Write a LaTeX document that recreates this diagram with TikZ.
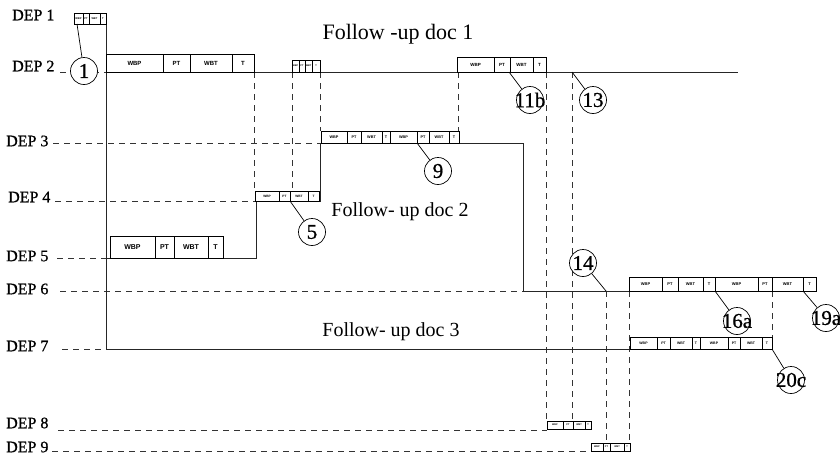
\documentclass[tikz,border=0pt]{standalone}
\usepackage{fontspec}
\setmainfont{Liberation Serif}
\newfontfamily\cellfont{Liberation Sans}
\newfontfamily\heavyserif{Liberation Serif}[FakeBold=0.8]
\newcommand\cellrow[5]{%
  \foreach \xa/\xb/\tx [count=\i] in {#5} {
    \node[cellbox, minimum width={(\xb-\xa)*1pt}, minimum height=#3pt,
          font=\cellfont\bfseries\fontsize{#4}{#4}\selectfont]
      (#1\i) at ({(\xa+\xb)/2}, {#2-#3/2}) {\tx};
  }%
}
\begin{document}
\begin{tikzpicture}[x=1pt,y=-1pt,
  solidln/.style={line width=0.8pt, black!85},
  dashln/.style={line width=0.7pt, black!80, dash pattern=on 6pt off 5pt},
  cellbox/.style={draw, line width=0.6pt, fill=white, inner sep=0pt},
  numcirc/.style={circle, draw, line width=0.7pt, fill=white, minimum size=27pt, inner sep=0pt, font=\heavyserif\fontsize{21}{21}\selectfont},
  deplab/.style={anchor=west, inner sep=0pt, font=\heavyserif\fontsize{16}{16}\selectfont},
  followlab/.style={inner sep=0pt, font=\fontsize{20}{20}\selectfont},
  leader/.style={line width=0.7pt}]

\useasboundingbox[fill=white] (0,0) rectangle (840,461);

% department labels
\node[deplab] (L1) at (12,15)  {DEP 1};
\node[deplab] (L2) at (12,66)  {DEP 2};
\node[deplab] (L3) at (6,141)  {DEP 3};
\node[deplab] (L4) at (8,197)  {DEP 4};
\node[deplab] (L5) at (6,256)  {DEP 5};
\node[deplab] (L6) at (6,289)  {DEP 6};
\node[deplab] (L7) at (6,346)  {DEP 7};
\node[deplab] (L8) at (6,423)  {DEP 8};
\node[deplab] (L9) at (6,447)  {DEP 9};

% horizontal dashed guide lines
\draw[dashln] (60,72) -- (106,72);
\draw[dashln] (53,143) -- (320,143);
\draw[dashln] (55,201) -- (255,201);
\draw[dashln] (57,258) -- (106,258);
\draw[dashln] (60,291) -- (523,291);
\draw[dashln] (62,349) -- (106,349);
\draw[dashln] (58,430) -- (547,430);
\draw[dashln] (52,451) -- (591,451);

% vertical dashed guide lines
\draw[dashln] (254,72) -- (254,191);
\draw[dashln] (292,72) -- (292,191);
\draw[dashln] (320,72) -- (320,131);
\draw[dashln] (458,72) -- (458,131);
\draw[dashln] (546,72) -- (546,421);
\draw[dashln] (572,72) -- (572,421);
\draw[dashln] (606,291) -- (606,443);
\draw[dashln] (629,291) -- (629,443);
\draw[dashln] (772,291) -- (772,337);

% solid document flows
\draw[solidln] (106,13) -- (106,349) -- (762,349);
\draw[solidln] (106,72) -- (738,72);
\draw[solidln] (106,258) -- (256,258) -- (256,201) -- (320,201) -- (320,143)
   -- (523,143) -- (523,291) -- (816,291);

% activity boxes
\cellrow{da}{24}{11}{2.6}{74/83/WBP,83/89/PT,89/100/WBT,100/106/T}
\cellrow{db}{72}{18}{6}{106/163/WBP,163/190/PT,190/232/WBT,232/254/T}
\cellrow{dc}{72}{12}{2.4}{292/299/WBP,299/305/PT,305/312/WBT,312/320/T}
\cellrow{dd}{72}{15}{4.5}{457/494/WBP,494/510/PT,510/533/WBT,533/546/T}
\cellrow{de}{143}{12}{3.8}{321/347/WBP,347/361/PT,361/382/WBT,382/390/T,390/417/WBP,417/429/PT,429/449/WBT,449/459/T}
\cellrow{df}{201}{10}{3.2}{255/279/WBP,279/290/PT,290/308/WBT,308/319/T}
\cellrow{dg}{258}{22}{7}{110/155/WBP,155/174/PT,174/208/WBT,208/223/T}
\cellrow{dh}{291}{14}{4}{629/662/WBP,662/678/PT,678/703/WBT,703/715/T,715/758/WBP,758/772/PT,772/803/WBT,803/816/T}
\cellrow{di}{349}{12}{3.5}{630/657/WBP,657/670/PT,670/692/WBT,692/700/T,700/728/WBP,728/740/PT,740/762/WBT,762/772/T}
\cellrow{dj}{429}{8}{2.4}{547/563/WBP,563/573/PT,573/585/WBT,585/591/T}
\cellrow{dk}{451}{8}{2.4}{591/603/WBP,603/610/PT,610/624/WBT,624/630/T}

% numbered callouts
\node[numcirc] (c1)   at (84,71)   {1};
\node[numcirc] (c5)   at (312,232) {5};
\node[numcirc] (c9)   at (438,171) {9};
\node[numcirc] (c11b) at (530,100) {\makebox[0pt]{11b}};
\node[numcirc] (c13)  at (593,100) {\makebox[0pt]{13}};
\node[numcirc] (c14)  at (583,263) {\makebox[0pt]{14}};
\node[numcirc] (c16a) at (737,321) {\makebox[0pt]{16a}};
\node[numcirc] (c19a) at (826,318) {\makebox[0pt]{19a}};
\node[numcirc] (c20c) at (791,380) {\makebox[0pt]{20c}};

\coordinate (p1)   at (77,24);
\coordinate (p5)   at (290,201);
\coordinate (p9)   at (417,143);
\coordinate (p11b) at (509,72);
\coordinate (p13)  at (572,72);
\coordinate (p14)  at (606,291);
\coordinate (p16a) at (715,291);
\coordinate (p19a) at (803,291);
\coordinate (p20c) at (772,349);

\foreach \n in {1,5,9,11b,13,14,16a,19a,20c} {
  \draw[leader] (c\n) -- (p\n);
}

% follow-up document titles
\node[followlab, font=\fontsize{22}{22}\selectfont] (f1) at (398,34) {Follow -up doc 1};
\node[followlab] (f2) at (400,212) {Follow- up doc 2};
\node[followlab] (f3) at (391,332) {Follow- up doc 3};
\end{tikzpicture}
\end{document}
